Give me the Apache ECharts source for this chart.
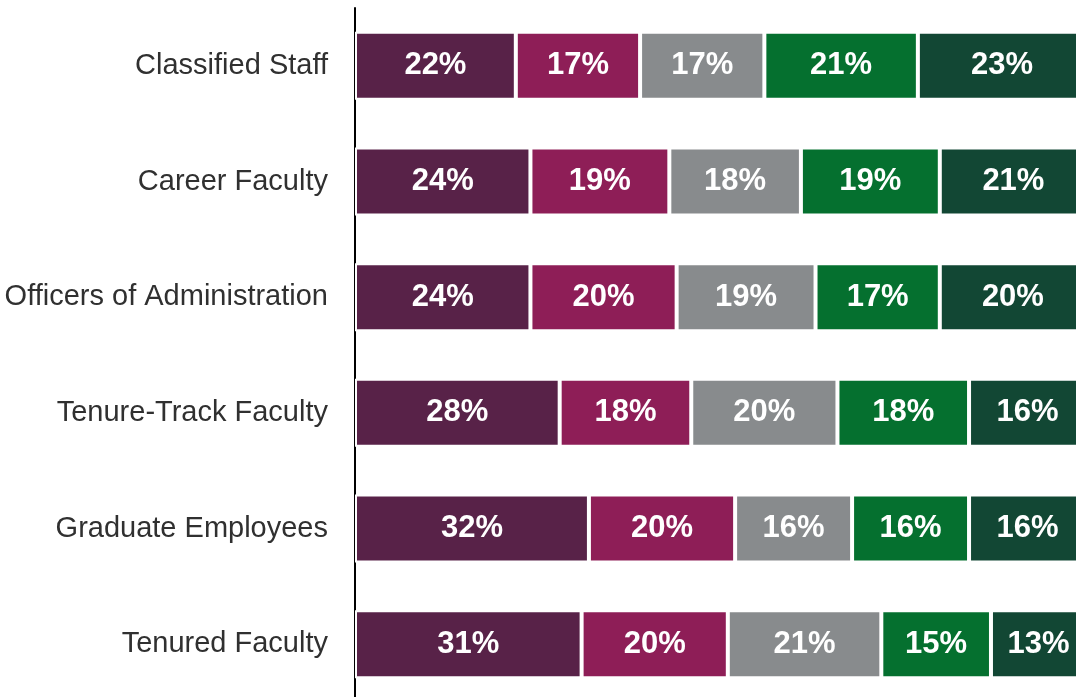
<!DOCTYPE html>
<html lang="en" style="height: 100%">
<head>
  <meta charset="utf-8">
</head>
<body style="height: 100%; margin: 0; background: #fff; overflow: hidden">
  <!-- the chart runs a little past the right and bottom edges, as in the original -->
  <div id="container" style="width: 1086px; height: 702px"></div>

  <script type="text/javascript" src="https://cdn.jsdelivr.net/npm/echarts@6/dist/echarts.min.js"></script>

  <script type="text/javascript">
    // rows, top to bottom
    const categories = ['Classified Staff', 'Career Faculty', 'Officers of Administration',
      'Tenure-Track Faculty', 'Graduate Employees', 'Tenured Faculty'];

    // percentages for each of the five response groups (left to right)
    const group1 = [22, 24, 24, 28, 32, 31];
    const group2 = [17, 19, 20, 18, 20, 20];
    const group3 = [17, 18, 19, 20, 16, 21];
    const group4 = [21, 19, 17, 18, 16, 15];
    const group5 = [23, 21, 20, 16, 16, 13];

    const groups = [group1, group2, group3, group4, group5];
    const colors = ['#582248', '#8e1e57', '#888b8d', '#05702f', '#124734'];

    var dom = document.getElementById('container');
    var myChart = echarts.init(dom, null, { renderer: 'canvas' });

    var option = {
      animation: false,
      grid: { left: 355, right: 0, top: 8, bottom: 0, containLabel: false },
      xAxis: {
        type: 'value',
        min: 0,
        max: 100,
        show: false
      },
      yAxis: {
        type: 'category',
        data: categories,
        inverse: true,
        axisLine: { show: true, lineStyle: { color: '#000', width: 2 } },
        axisTick: { show: false },
        axisLabel: {
          margin: 27,
          color: '#303030',
          fontSize: 29,
          fontFamily: 'Liberation Sans, Arial, sans-serif'
        }
      },
      series: groups.map(function (vals, i) {
        return {
          name: 'Group ' + (i + 1),
          type: 'bar',
          stack: 'total',
          barWidth: 68,
          data: vals,
          itemStyle: { color: colors[i], borderColor: '#fff', borderWidth: 2 },
          label: {
            show: true,
            position: 'inside',
            formatter: '{c}%',
            color: '#fff',
            fontWeight: 'bold',
            fontSize: 31,
            fontFamily: 'Liberation Sans, Arial, sans-serif'
          }
        };
      })
    };

    myChart.setOption(option);
    window.addEventListener('resize', myChart.resize);
  </script>
</body>
</html>
